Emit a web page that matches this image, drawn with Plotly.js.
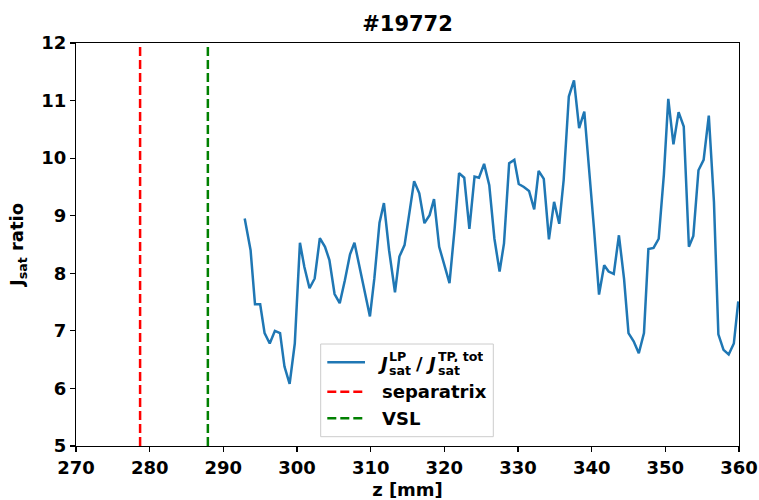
<!DOCTYPE html>
<html>
<head>
<meta charset="utf-8">
<script src="https://cdn.plot.ly/plotly-3.0.1.min.js"></script>
<style>html,body{margin:0;padding:0;background:#fff;}#chart{width:759px;height:500px;}</style>
</head>
<body>
<div id="chart"></div>
<script>
const zPos = [292.9, 293.7, 294.3, 295.0, 295.6, 296.3, 297.0, 297.7, 298.3, 299.0,
  299.7, 300.4, 301.0, 301.7, 302.4, 303.1, 303.8, 304.4, 305.1, 305.8,
  306.5, 307.2, 307.8, 308.5, 309.2, 309.9, 310.5, 311.2, 311.8, 312.5,
  313.3, 313.9, 314.6, 315.2, 315.9, 316.6, 317.3, 318.0, 318.6, 319.3,
  320.0, 320.7, 321.4, 322.0, 322.7, 323.4, 324.1, 324.7, 325.4, 326.1,
  326.8, 327.5, 328.1, 328.8, 329.5, 330.1, 330.8, 331.5, 332.2, 332.8,
  333.5, 334.2, 334.9, 335.6, 336.2, 336.9, 337.6, 338.3, 339.0, 339.6,
  340.3, 341.0, 341.7, 342.3, 343.0, 343.7, 344.4, 345.0, 345.7, 346.4,
  347.1, 347.7, 348.4, 349.1, 349.8, 350.4, 351.1, 351.8, 352.5, 353.2,
  353.8, 354.5, 355.2, 355.9, 356.6, 357.2, 357.9, 358.6, 359.3, 359.9];
const jsatRatio = [8.95, 8.40, 7.46, 7.46, 6.96, 6.78, 7.00, 6.96, 6.38, 6.08,
  6.78, 8.53, 8.11, 7.74, 7.91, 8.61, 8.46, 8.23, 7.64, 7.48,
  7.88, 8.33, 8.53, 8.11, 7.71, 7.25, 7.91, 8.88, 9.22, 8.40,
  7.67, 8.29, 8.49, 9.04, 9.60, 9.39, 8.87, 9.01, 9.29, 8.46,
  8.14, 7.83, 8.78, 9.74, 9.66, 8.77, 9.68, 9.66, 9.90, 9.53,
  8.60, 8.03, 8.52, 9.91, 9.97, 9.55, 9.50, 9.43, 9.11, 9.78,
  9.64, 8.59, 9.24, 8.86, 9.62, 11.07, 11.35, 10.52, 10.81, 9.95,
  8.80, 7.63, 8.14, 8.03, 7.99, 8.66, 7.90, 6.96, 6.82, 6.61,
  6.96, 8.42, 8.44, 8.60, 9.71, 11.03, 10.24, 10.80, 10.55, 8.46,
  8.65, 9.79, 9.97, 10.74, 9.24, 6.94, 6.67, 6.59, 6.78, 7.51];
const separatrixZ = 278.7;
const vslZ = 287.9;
const xTicks = [270, 280, 290, 300, 310, 320, 330, 340, 350, 360];
const yTicks = [5, 6, 7, 8, 9, 10, 11, 12];
const xRange = [270, 360];
const yRange = [5, 12];
const legendLabels = ['separatrix', 'VSL'];

// layout helpers (pixel -> paper)
const L = 76, R = 739, T = 43, B = 446;
const px = v => (v - L) / (R - L);
const py = v => (B - v) / (B - T);
const FONT = 'DejaVu Sans';
const bold = (size) => ({family: FONT, size: size, color: '#000', weight: 'bold'});
const LW = 2.5;
const DASH = '9px,4px';

const traces = [
  {x: zPos, y: jsatRatio, type: 'scatter', mode: 'lines',
   line: {color: '#1f77b4', width: LW}, name: 'J_sat^LP / J_sat^TP,tot', showlegend: false},
  {x: [separatrixZ, separatrixZ], y: yRange, type: 'scatter', mode: 'lines',
   line: {color: '#ff0000', width: LW, dash: DASH}, name: legendLabels[0], showlegend: false},
  {x: [vslZ, vslZ], y: yRange, type: 'scatter', mode: 'lines',
   line: {color: '#008000', width: LW, dash: DASH}, name: legendLabels[1], showlegend: false}
];

const ann = (text, x, y, size, extra) => Object.assign({
  text: text, xref: 'paper', yref: 'paper', x: px(x), y: py(y),
  xanchor: 'left', yanchor: 'middle', showarrow: false,
  font: bold(size), borderpad: 0
}, extra || {});

const shapes = [
  {type: 'rect', xref: 'paper', yref: 'paper', x0: px(320.7), x1: px(493.3), y0: py(436.7), y1: py(344),
   line: {color: '#cccccc', width: 1}, fillcolor: 'rgba(255,255,255,0.8)', layer: 'above'},
  {type: 'line', xref: 'paper', yref: 'paper', x0: px(327.3), x1: px(365), y0: py(362.3), y1: py(362.3),
   line: {color: '#1f77b4', width: LW}, layer: 'above'},
  {type: 'line', xref: 'paper', yref: 'paper', x0: px(327.3), x1: px(365), y0: py(391.7), y1: py(391.7),
   line: {color: '#ff0000', width: LW, dash: DASH}, layer: 'above'},
  {type: 'line', xref: 'paper', yref: 'paper', x0: px(327.3), x1: px(365), y0: py(418.3), y1: py(418.3),
   line: {color: '#008000', width: LW, dash: DASH}, layer: 'above'}
];

const small = {height: 12};
const annotations = [
  ann('<i>J</i>', 376.5, 363, 18),
  ann('LP', 388, 355.5, 12.6, small),
  ann('sat', 388, 369.5, 12.6, small),
  ann('/', 414.5, 363, 18),
  ann('<i>J</i>', 424.5, 363, 18),
  ann('TP, tot', 437, 355.5, 12.6, small),
  ann('sat', 437, 369.5, 12.6, small),
  ann(legendLabels[0], 380.5, 391, 18),
  ann(legendLabels[1], 380.5, 418, 18)
];

const layout = {
  width: 759, height: 500,
  margin: {l: L, r: 759 - R, t: T, b: 500 - B, pad: 0},
  paper_bgcolor: '#ffffff', plot_bgcolor: '#ffffff',
  showlegend: false,
  title: {text: '#19772', font: bold(21), x: px(407.5), xref: 'paper', xanchor: 'center',
          y: 1 - 24 / 500, yref: 'container', yanchor: 'middle'},
  xaxis: {range: xRange, tickmode: 'array', tickvals: xTicks, ticktext: xTicks.map(String),
          showline: true, linecolor: '#000', linewidth: 1.1, mirror: true,
          ticks: 'outside', ticklen: 5, tickwidth: 1.1, tickcolor: '#000',
          showgrid: false, zeroline: false, tickfont: bold(18),
          title: {text: 'z [mm]', font: bold(18), standoff: 6}, automargin: false},
  yaxis: {range: yRange, tickmode: 'array', tickvals: yTicks, ticktext: yTicks.map(String),
          showline: true, linecolor: '#000', linewidth: 1.1, mirror: true,
          ticks: 'outside', ticklen: 5, tickwidth: 1.1, tickcolor: '#000',
          showgrid: false, zeroline: false, tickfont: bold(18),
          title: {text: 'J<sub>sat</sub> ratio', font: bold(18), standoff: 12}, automargin: false},
  shapes: shapes,
  annotations: annotations
};

Plotly.newPlot('chart', traces, layout, {displayModeBar: false, staticPlot: true});
</script>
</body>
</html>
